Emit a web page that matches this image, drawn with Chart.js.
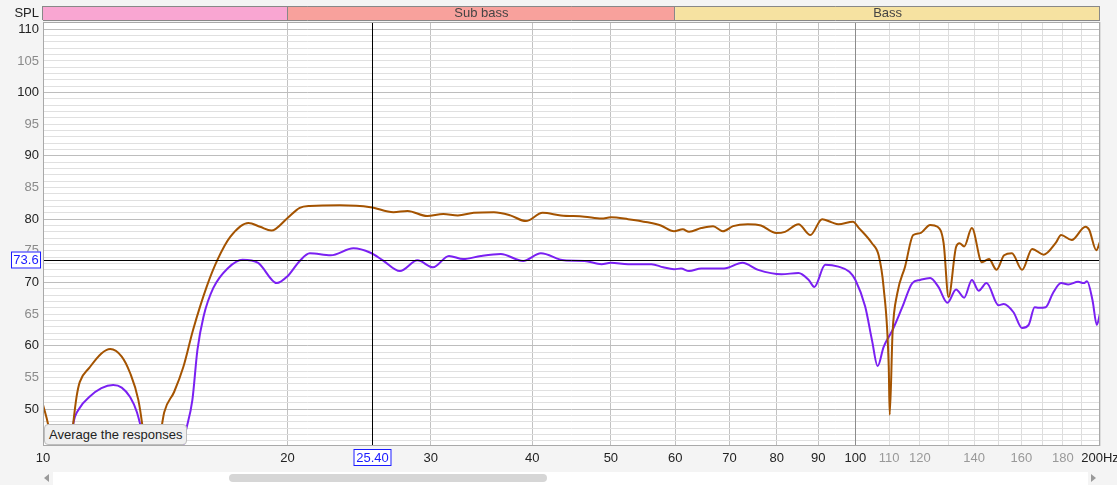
<!DOCTYPE html>
<html>
<head>
<meta charset="utf-8">
<title>SPL</title>
<script src="https://cdn.jsdelivr.net/npm/chart.js@4.4.1/dist/chart.umd.min.js"></script>
<style>
  html, body { margin: 0; padding: 0; background: #f4f4f4; }
  #wrap { position: relative; width: 1117px; height: 485px; overflow: hidden; font-family: "Liberation Sans", Arial, sans-serif; }
  #avgBtn {
    position: absolute; left: 44px; top: 424px; width: 137px; height: 19px;
    border: 1px solid #bdbdbd; border-radius: 4px; background: #efefef;
    font-size: 13px; line-height: 19px; color: #222; padding-left: 4px; box-sizing: content-box;
  }
  #track { position: absolute; left: 53px; top: 472px; width: 1035px; height: 13px; background: #fff; }
  #thumb { position: absolute; left: 229px; top: 474px; width: 318px; height: 8px; background: #d6d6d6; border-radius: 4px; }
  .arrowL { position: absolute; left: 44px; top: 474px; width: 0; height: 0; border-top: 4px solid transparent; border-bottom: 4px solid transparent; border-right: 5px solid #999; }
  .arrowR { position: absolute; left: 1091px; top: 474px; width: 0; height: 0; border-top: 4px solid transparent; border-bottom: 4px solid transparent; border-left: 5px solid #999; }
</style>
</head>
<body>
<div id="wrap">
  <canvas id="spl-chart" width="1117" height="485"></canvas>
  <div id="track"></div>
  <div id="thumb"></div>
  <div class="arrowL"></div>
  <div class="arrowR"></div>
  <div id="avgBtn">Average the responses</div>
</div>
<script>
// brown trace (Hz / dB)
const brownFreq = [10, 10.15, 10.3, 10.5, 10.75, 10.89, 11.0, 11.1, 11.4, 11.8, 12.1, 12.5, 12.8, 13.1, 13.25, 13.4, 13.7, 13.95, 14.1, 14.5, 14.88, 15.3, 15.9, 16.4, 17.0, 17.9, 18.5, 19.1, 20, 20.7, 21.3, 23.2, 25.3, 27.0, 28.1, 29.7, 31.1, 32.4, 33.9, 35.9, 37.6, 39.3, 41.2, 43.4, 46.4, 48.7, 50.0, 52.5, 55.5, 57.6, 59.8, 61.3, 62.4, 64.6, 66.8, 68.7, 70.7, 73.7, 76.5, 79.9, 81.9, 85.1, 88.0, 91.0, 93.5, 95.3, 99.3, 101.0, 104.8, 106.8, 108.3, 109.9, 110.2, 111.1, 112.6, 115.1, 117.8, 120.1, 123.6, 126.2, 128.4, 130.2, 133.0, 134.3, 136.1, 139.1, 143.1, 146.0, 149.2, 152.4, 155.8, 160.4, 165.0, 170.5, 176.5, 179.1, 184.6, 191.9, 194.0, 197.9, 200];
const brownSpl = [50.7, 47.5, 43, 38, 40, 47.5, 52, 54.3, 56.5, 58.8, 59.5, 58.3, 55.7, 51.5, 47.5, 42, 40, 46, 49.5, 52.7, 56.6, 62.5, 69.3, 73.6, 77.2, 79.4, 78.8, 78.2, 80.2, 81.8, 82.1, 82.2, 81.9, 81.1, 81.3, 80.5, 80.8, 80.6, 81.0, 81.1, 80.6, 79.7, 81.0, 80.6, 80.4, 80.1, 80.3, 80.0, 79.5, 79.0, 78.1, 78.4, 78.0, 78.6, 78.9, 78.1, 78.9, 79.2, 79.0, 77.8, 78.0, 79.2, 77.5, 80.0, 79.5, 79.2, 79.6, 78.6, 76.2, 74.3, 69.3, 56.7, 49.1, 62.1, 68.3, 72.5, 77.5, 77.8, 79.1, 78.8, 76.2, 67.7, 75.6, 76.2, 75.7, 78.6, 73.2, 73.7, 72.0, 74.3, 74.6, 72.0, 75.3, 74.4, 76.3, 77.5, 76.7, 78.8, 78.3, 75.1, 76.4];

// purple trace (Hz / dB)
const purpleFreq = [10, 10.3, 10.6, 10.8, 10.89, 11.1, 11.4, 11.8, 12.2, 12.5, 12.8, 13.05, 13.25, 13.4, 13.8, 14.3, 14.7, 14.96, 15.27, 15.49, 15.76, 16.2, 16.9, 17.6, 18.4, 19.4, 20, 20.7, 21.3, 22.6, 24.1, 25.3, 26.2, 27.5, 28.9, 30.2, 31.6, 32.9, 34.6, 36.6, 39.0, 41.0, 43.8, 46.4, 48.7, 50.0, 52.5, 56.1, 58.0, 59.8, 61.0, 62.4, 64.6, 68.9, 72.6, 75.9, 81.1, 85.1, 87.6, 89.0, 91.8, 95.3, 98.3, 100, 102.8, 104.8, 106.5, 108.3, 111.1, 114.2, 117.5, 120.1, 123.6, 126.5, 129.8, 133.0, 136.1, 139.1, 141.8, 145.0, 150.0, 152.2, 156.5, 160.4, 163.4, 166.2, 168.1, 171.5, 175.0, 179.1, 182.8, 188.0, 191.0, 192.8, 195.8, 198.2, 200];
const purpleSpl = [38, 36, 38, 43, 47.5, 50.2, 51.9, 53.3, 53.8, 53.4, 51.9, 49.5, 46, 42, 36, 36, 40, 46, 51.4, 59.3, 64.6, 69.1, 72.3, 73.6, 73.1, 69.9, 71.0, 73.4, 74.6, 74.3, 75.4, 74.7, 73.5, 71.8, 73.5, 72.4, 74.2, 73.7, 74.2, 74.5, 73.4, 74.6, 73.5, 73.4, 72.9, 73.1, 72.9, 72.9, 72.4, 72.1, 72.2, 71.8, 72.2, 72.2, 73.1, 72.0, 71.3, 71.5, 70.4, 69.3, 72.8, 72.5, 71.7, 70.4, 66.2, 60.9, 56.8, 59.8, 62.5, 66.1, 69.9, 70.4, 70.7, 69.3, 66.8, 68.9, 67.6, 70.4, 68.7, 69.9, 66.4, 66.6, 65.3, 62.8, 63.3, 66.1, 66.0, 66.1, 68.3, 69.9, 69.7, 70.1, 69.9, 70.2, 67.2, 63.3, 65.1];

// axes
const xTicks = [10, 20, 30, 40, 50, 60, 70, 80, 90, 100, 110, 120, 130, 140, 150, 160, 170, 180, 190, 200];
const xLabels = { 10: '10', 20: '20', 30: '30', 40: '40', 50: '50', 60: '60', 70: '70', 80: '80', 90: '90', 100: '100', 110: '110', 120: '120', 140: '140', 160: '160', 180: '180', 200: '200Hz' };
const yLabels = [50, 55, 60, 65, 70, 75, 80, 85, 90, 95, 100, 105, 110];
const yMin = 44.17;
const yMax = 111.15;

// frequency bands along the top
const bandNames = ['', 'Sub bass', 'Bass'];
const bandEdges = [10, 20, 60, 200];
const bandColors = ['#f9a6d2', '#f8a19c', '#f6e2a1'];

// cursor
const cursorFreq = 25.40;
const cursorSpl = 73.6;

const FONT = '"Liberation Sans", Arial, sans-serif';

function toPoints(freq, spl) {
    return freq.map((f, i) => ({ x: f, y: spl[i] }));
}

const overlay = {
    id: 'overlay',
    beforeDraw(chart) {
        const a = chart.chartArea;
        chart.ctx.save();
        chart.ctx.fillStyle = '#fff';
        chart.ctx.fillRect(a.left, a.top, a.right - a.left, a.bottom - a.top);
        chart.ctx.restore();
    },
    beforeDatasetsDraw(chart) {
        // the decade line sits on top of the dB grid
        const c = chart.ctx;
        const a = chart.chartArea;
        const x = Math.round(chart.scales.x.getPixelForValue(100)) + 0.5;
        c.save();
        c.strokeStyle = '#8c8c8c';
        c.lineWidth = 1;
        c.beginPath();
        c.moveTo(x, a.top);
        c.lineTo(x, a.bottom);
        c.stroke();
        c.restore();
    },
    afterDatasetsDraw(chart) {
        const c = chart.ctx;
        const area = chart.chartArea;
        const xs = chart.scales.x;
        const ys = chart.scales.y;

        c.save();
        // cursor lines
        const cx = Math.round(xs.getPixelForValue(cursorFreq)) + 0.5;
        const cy = Math.round(ys.getPixelForValue(cursorSpl)) + 0.5;
        c.strokeStyle = '#000';
        c.lineWidth = 1;
        c.beginPath();
        c.moveTo(cx, area.top);
        c.lineTo(cx, area.bottom);
        c.moveTo(area.left, cy);
        c.lineTo(area.right, cy);
        c.stroke();

        // plot frame
        c.strokeStyle = '#a9a9a9';
        c.strokeRect(area.left + 0.5, area.top + 0.5, area.right - area.left - 1, area.bottom - area.top - 1);

        // band bar
        const top = 6, h = 14;
        c.font = '13px ' + FONT;
        c.textAlign = 'center';
        c.textBaseline = 'middle';
        for (let i = 0; i < bandNames.length; i++) {
            const x0 = xs.getPixelForValue(bandEdges[i]);
            const x1 = xs.getPixelForValue(bandEdges[i + 1]);
            c.fillStyle = bandColors[i];
            c.fillRect(x0, top, x1 - x0, h);
            if (bandNames[i]) {
                c.fillStyle = '#444';
                c.fillText(bandNames[i], (x0 + x1) / 2, top + h / 2 + 0.5);
            }
        }
        c.strokeStyle = '#888';
        c.beginPath();
        c.moveTo(area.left, top + 0.5);
        c.lineTo(area.right, top + 0.5);
        c.moveTo(area.left, top + h + 0.5);
        c.lineTo(area.right, top + h + 0.5);
        bandEdges.forEach(f => {
            const x = Math.round(xs.getPixelForValue(f)) - 0.5;
            c.moveTo(x, top);
            c.lineTo(x, top + h);
        });
        c.stroke();

        // SPL title
        c.fillStyle = '#222';
        c.textAlign = 'right';
        c.fillText('SPL', 39, 13);

        // cursor value boxes
        c.font = '13px ' + FONT;
        c.textAlign = 'center';
        const drawBox = (text, x, y, w, hh) => {
            c.fillStyle = '#fff';
            c.fillRect(x, y, w, hh);
            c.strokeStyle = '#1a1aff';
            c.strokeRect(x + 0.5, y + 0.5, w - 1, hh - 1);
            c.fillStyle = '#1a1aff';
            c.fillText(text, x + w / 2, y + hh / 2 + 0.5);
        };
        drawBox(cursorSpl.toFixed(1), 11, cy - 9, 30, 17);
        drawBox(cursorFreq.toFixed(2), cx - 19, 449, 38, 17);
        c.restore();
    }
};

new Chart(document.getElementById('spl-chart'), {
    type: 'line',
    data: {
        datasets: [{
            data: toPoints(brownFreq, brownSpl),
            borderColor: '#a45300',
            borderWidth: 2,
            pointRadius: 0,
            cubicInterpolationMode: 'monotone',
            clip: 0
        }, {
            data: toPoints(purpleFreq, purpleSpl),
            borderColor: '#7a20f2',
            borderWidth: 2,
            pointRadius: 0,
            cubicInterpolationMode: 'monotone',
            clip: 0
        }]
    },
    options: {
        responsive: false,
        animation: false,
        layout: { padding: { top: 22, right: 17, left: 0, bottom: 0 } },
        plugins: {
            legend: { display: false },
            tooltip: { enabled: false }
        },
        scales: {
            x: {
                type: 'logarithmic',
                min: 10,
                max: 200,
                afterBuildTicks: s => { s.ticks = xTicks.map(v => ({ value: v })); },
                afterFit: s => { s.height = 39; s.paddingLeft = 0; s.paddingRight = 0; },
                border: { display: false },
                grid: {
                    drawTicks: false,
                    color: ctx => {
                        const v = ctx.tick && ctx.tick.value;
                        if (v === 100) return '#8c8c8c';
                        if (v > 100) return '#dddddd';
                        return '#c2c2c2';
                    }
                },
                ticks: {
                    autoSkip: false,
                    maxRotation: 0,
                    padding: 5,
                    font: { family: FONT, size: 13 },
                    color: ctx => (ctx.tick.value > 100 && ctx.tick.value < 200) ? '#999' : '#222',
                    callback: v => xLabels[v] || ''
                }
            },
            y: {
                min: yMin,
                max: yMax,
                afterBuildTicks: s => {
                    const t = [];
                    for (let v = Math.ceil(yMin); v <= Math.floor(yMax); v++) t.push({ value: v });
                    s.ticks = t;
                },
                afterFit: s => { s.width = 43; s.paddingTop = 0; s.paddingBottom = 0; },
                border: { display: false },
                grid: {
                    drawTicks: false,
                    color: ctx => (ctx.tick && ctx.tick.value % 10 === 0) ? '#bdbdbd' : '#e0e0e0'
                },
                ticks: {
                    autoSkip: false,
                    padding: 4,
                    font: { family: FONT, size: 13 },
                    color: ctx => ctx.tick.value % 10 === 0 ? '#222' : '#8a8a8a',
                    callback: v => yLabels.includes(v) ? String(v) : ''
                }
            }
        }
    },
    plugins: [overlay]
});
</script>
</body>
</html>
